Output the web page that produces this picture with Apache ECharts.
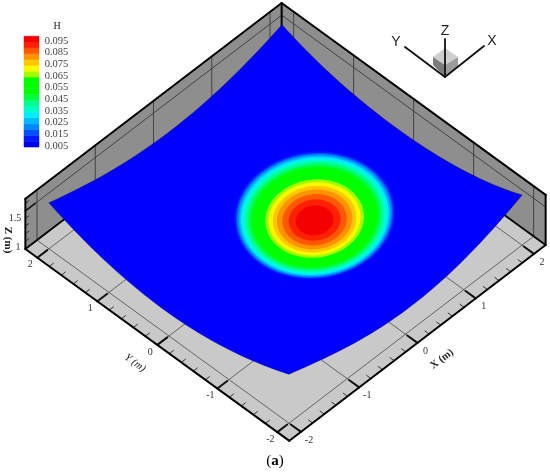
<!DOCTYPE html>
<html>
<head>
<meta charset="utf-8">
<style>
  html, body { margin: 0; padding: 0; background: #fff; }
  #main { width: 550px; height: 472px; }
</style>
<script src="https://cdn.jsdelivr.net/npm/echarts@6/dist/echarts.min.js"></script>
</head>
<body>
<div id="main"></div>
<script>
// values
const xTicks = [-2, -1, 0, 1, 2];
const yTicks = [-2, -1, 0, 1, 2];
const zTicks = [1, 1.5];
const boxHalf = 2.2;
const zTop = 1.66;

// height of the surface (m), rows X = -2..2, columns Y = -2..2
const surfaceZ = [
  [1.645, 1.395, 1.30, 1.37, 1.605],
  [1.42, 1.18, 1.105, 1.18, 1.41],
  [1.315, 1.105, 1.03, 1.105, 1.33],
  [1.395, 1.18, 1.105, 1.18, 1.395],
  [1.66, 1.42, 1.34, 1.395, 1.605]
];

// contour bands of H, bottom to top of the legend
const bandFloor = [0.0041, 0.0091, 0.0141, 0.0191, 0.0241, 0.0291, 0.0341, 0.0391, 0.0441, 0.0491,
  0.0541, 0.0591, 0.0641, 0.0691, 0.0741, 0.0791, 0.0841, 0.0891, 0.0941];
const bandColors = ['#0000e8', '#0018ff', '#0050ff', '#0088ff', '#00b8ff', '#00ecff', '#00ffc8', '#00ff90', '#00ff40', '#00ff00',
  '#00ff00', '#00ff00', '#a0ff00', '#f8f800', '#ffc800', '#ff9400', '#ff5800', '#ff2000', '#f40000'];
// distance (m) from the peak at which each band starts
const bandRadius = [9, 0.96, 0.94, 0.925, 0.905, 0.885, 0.855, 0.825, 0.79, 0.755,
  0.7, 0.65, 0.59, 0.55, 0.50, 0.45, 0.385, 0.31, 0.225];
const peak = [0.505, 0.005];
const legendLabels = ['0.095', '0.085', '0.075', '0.065', '0.055', '0.045', '0.035', '0.025', '0.015', '0.005'];

const serif = '"Liberation Serif", serif';
const wallColor = '#8e8e8e';
const floorColor = '#c9c9c9';

// axonometric view of the box, in page pixels
function project(x, y, z) {
  return [285.5 + 58.25 * x - 60 * y, 247 - 44.5 * x - 43.6 * y - 76 * (z - 1)];
}

// smooth read-out of the height table
function lagrange(vals, t) {
  let sum = 0;
  for (let i = 0; i < 5; i++) {
    let w = 1;
    for (let j = 0; j < 5; j++) {
      if (j !== i) w *= (t - (j - 2)) / (i - j);
    }
    sum += w * vals[i];
  }
  return sum;
}
function heightAt(x, y) {
  return lagrange(surfaceZ.map(function (row) { return lagrange(row, y); }), x);
}

function poly(api, pts, fill, stroke, width) {
  return {
    type: 'polygon',
    shape: { points: pts.map(function (p) { return api.coord(p); }) },
    style: { fill: fill, stroke: stroke || null, lineWidth: width || 0 }
  };
}
function seg(api, a, b, color, width) {
  const p = api.coord(a), q = api.coord(b);
  return {
    type: 'line',
    shape: { x1: p[0], y1: p[1], x2: q[0], y2: q[1] },
    style: { stroke: color, lineWidth: width, lineCap: 'round' }
  };
}
function label(api, pos, text, font, fill, rotation) {
  const p = api.coord(pos);
  return {
    type: 'text', x: p[0], y: p[1], rotation: rotation || 0,
    style: { text: text, font: font, fill: fill, align: 'center', verticalAlign: 'middle' }
  };
}

function renderBox(params, api) {
  const b = boxHalf, c = [];
  // walls and floor
  c.push(poly(api, [project(-b, b, 1), project(b, b, 1), project(b, b, zTop), project(-b, b, zTop)], wallColor));
  c.push(poly(api, [project(b, b, 1), project(b, -b, 1), project(b, -b, zTop), project(b, b, zTop)], wallColor));
  c.push(poly(api, [project(-b, -b, 1), project(b, -b, 1), project(b, b, 1), project(-b, b, 1)], floorColor));
  // grid
  xTicks.forEach(function (t) {
    c.push(seg(api, project(t, -b, 1), project(t, b, 1), '#4a4a4a', 0.8));
    c.push(seg(api, project(t, b, 1), project(t, b, zTop), '#3a3a3a', 0.9));
  });
  yTicks.forEach(function (t) {
    c.push(seg(api, project(-b, t, 1), project(b, t, 1), '#4a4a4a', 0.8));
    c.push(seg(api, project(b, t, 1), project(b, t, zTop), '#3a3a3a', 0.9));
  });
  c.push(seg(api, project(-b, b, 1.5), project(b, b, 1.5), '#3a3a3a', 0.9));
  c.push(seg(api, project(b, b, 1.5), project(b, -b, 1.5), '#3a3a3a', 0.9));
  // ticks on the two front floor edges
  for (let t = -2; t <= 2.001; t += 0.2) {
    const major = Math.abs(t - Math.round(t)) < 0.01;
    const len = major ? 0.17 : 0.07;
    c.push(seg(api, project(t, -b, 1), project(t, -b + len, 1), '#111', major ? 2 : 0.8));
    c.push(seg(api, project(-b, t, 1), project(-b + len, t, 1), '#111', major ? 2 : 0.8));
  }
  for (let z = 1.1; z < zTop; z += 0.1) {
    const major = Math.abs(z - 1.5) < 0.01;
    c.push(seg(api, project(-b, b, z), project(-b + (major ? 0.17 : 0.06), b, z), '#111', major ? 1.6 : 0.8));
  }
  // frame
  c.push(seg(api, project(-b, b, 1), project(b, b, 1), '#000', 1.8));
  c.push(seg(api, project(b, b, 1), project(b, -b, 1), '#000', 1.8));
  c.push(seg(api, project(-b, b, 1), project(-b, -b, 1), '#000', 2));
  c.push(seg(api, project(-b, -b, 1), project(b, -b, 1), '#000', 2));
  c.push(seg(api, project(-b, b, zTop), project(b, b, zTop), '#000', 2));
  c.push(seg(api, project(b, b, zTop), project(b, -b, zTop), '#000', 2));
  c.push(seg(api, project(-b, b, 1), project(-b, b, zTop), '#000', 2));
  c.push(seg(api, project(b, -b, 1), project(b, -b, zTop), '#000', 2));
  c.push(seg(api, project(b, b, 1), project(b, b, zTop), '#000', 2));
  return { type: 'group', children: c };
}

function renderSurface(params, api) {
  const c = [];
  const rim = [];
  const n = 40;
  for (let i = 0; i < n; i++) { const t = -2 + 4 * i / n; rim.push(project(t, -2, heightAt(t, -2))); }
  for (let i = 0; i < n; i++) { const t = -2 + 4 * i / n; rim.push(project(2, t, heightAt(2, t))); }
  for (let i = 0; i < n; i++) { const t = 2 - 4 * i / n; rim.push(project(t, 2, heightAt(t, 2))); }
  for (let i = 0; i < n; i++) { const t = 2 - 4 * i / n; rim.push(project(-2, t, heightAt(-2, t))); }
  c.push(poly(api, rim, '#0000ff', '#000070', 0.5));
  for (let k = 1; k < bandRadius.length; k++) {
    const ring = [];
    for (let a = 0; a < 90; a++) {
      const ang = a / 90 * Math.PI * 2;
      const x = peak[0] + bandRadius[k] * Math.cos(ang);
      const y = peak[1] + bandRadius[k] * Math.sin(ang);
      ring.push(project(x, y, heightAt(x, y)));
    }
    c.push(poly(api, ring, bandColors[k]));
  }
  return { type: 'group', children: c };
}

function legendY(h) { return 146 - (h - 0.005) / 0.09 * 105; }

function renderLegend(params, api) {
  const c = [];
  bandFloor.forEach(function (h, i) {
    const top = i + 1 < bandFloor.length ? bandFloor[i + 1] : h + 0.005;
    c.push(poly(api, [[24, legendY(h)], [39, legendY(h)], [39, legendY(top)], [24, legendY(top)]], bandColors[i], bandColors[i], 0.5));
  });
  legendLabels.forEach(function (s) {
    c.push(label(api, [56.5, legendY(+s)], s, '10.5px ' + serif, '#444'));
  });
  c.push(label(api, [57, 26], 'H', '10px ' + serif, '#222'));
  return { type: 'group', children: c };
}

function renderText(params, api) {
  const c = [];
  const tickFont = '10px ' + serif;
  xTicks.forEach(function (t) {
    const p = project(t, -boxHalf, 1);
    c.push(label(api, [p[0] + 8, p[1] + 8], String(t), tickFont, '#333'));
  });
  yTicks.forEach(function (t) {
    const p = project(-boxHalf, t, 1);
    c.push(label(api, [p[0] - 7, p[1] + 7], String(t), tickFont, '#333'));
  });
  c.push(label(api, [15, 218], String(zTicks[1]), tickFont, '#333'));
  c.push(label(api, [18, 247], String(zTicks[0]), tickFont, '#333'));
  c.push(label(api, [135, 363], 'Y (m)', 'italic 10.5px ' + serif, '#222', -0.62));
  c.push(label(api, [442, 359], 'X (m)', 'bold 10.5px ' + serif, '#222', 0.65));
  c.push(label(api, [8, 240], 'Z (m)', 'bold 11px ' + serif, '#222', -Math.PI / 2));
  // caption
  const cap = api.coord([275, 461]);
  c.push({
    type: 'text', x: cap[0], y: cap[1],
    style: {
      text: '(' + '{b|a}' + ')', font: '15px ' + serif, fill: '#000', align: 'center', verticalAlign: 'middle',
      rich: { b: { font: 'bold 15px ' + serif, fill: '#000' } }
    }
  });
  // orientation triad
  c.push(poly(api, [[445, 48], [458, 57], [445, 65], [433, 57]], '#cfcfcf'));
  c.push(poly(api, [[433, 57], [445, 65], [445, 77], [433, 65]], '#7c7c7c'));
  c.push(poly(api, [[458, 57], [445, 65], [445, 77], [458, 66]], '#9c9c9c'));
  c.push(seg(api, [445, 77], [405, 47], '#111', 1.8));
  c.push(seg(api, [445, 77], [484, 46], '#111', 1.8));
  c.push(seg(api, [445, 77], [445, 39], '#111', 1.8));
  const sans = '14px "Liberation Sans", sans-serif';
  c.push(label(api, [396, 42], 'Y', sans, '#222'));
  c.push(label(api, [492, 41], 'X', sans, '#222'));
  c.push(label(api, [445, 31], 'Z', sans, '#222'));
  return { type: 'group', children: c };
}

const chart = echarts.init(document.getElementById('main'), null, { renderer: 'canvas' });
chart.setOption({
  animation: false,
  backgroundColor: '#fff',
  grid: { left: 0, right: 0, top: 0, bottom: 0 },
  xAxis: { type: 'value', min: 0, max: 550, show: false },
  yAxis: { type: 'value', min: 0, max: 472, inverse: true, show: false },
  series: [
    { type: 'custom', data: [[0]], z: 1, silent: true, renderItem: renderBox },
    { type: 'custom', data: [[0]], z: 2, silent: true, renderItem: renderSurface },
    { type: 'custom', data: [[0]], z: 3, silent: true, renderItem: renderLegend },
    { type: 'custom', data: [[0]], z: 4, silent: true, renderItem: renderText }
  ]
});
</script>
</body>
</html>
